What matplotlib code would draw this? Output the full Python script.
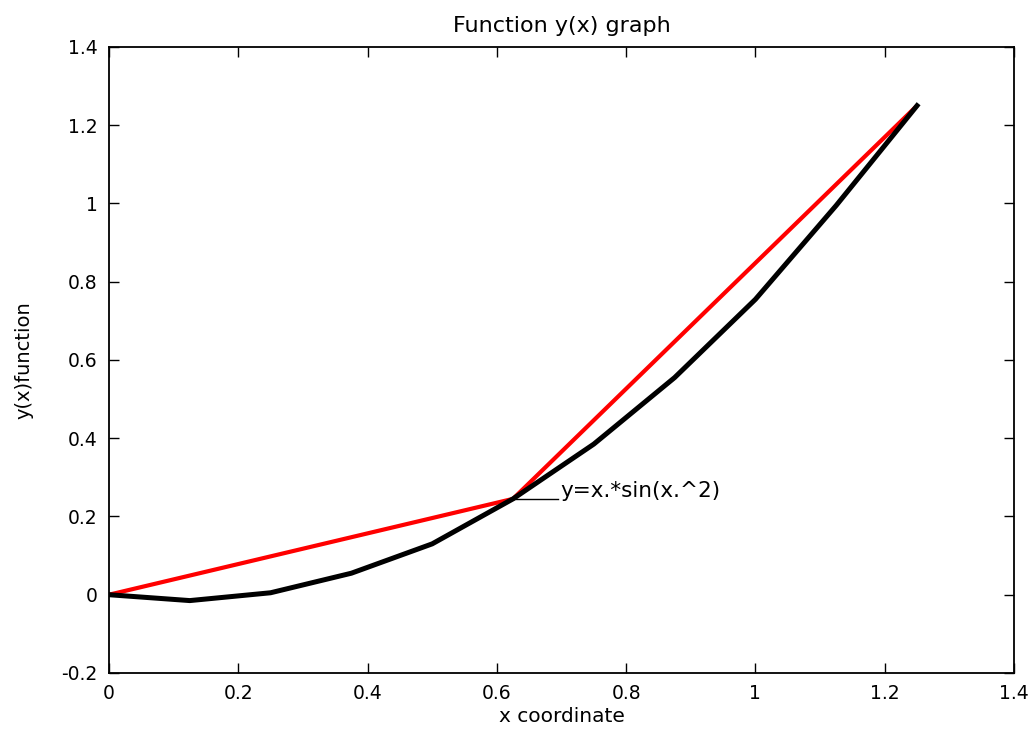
import matplotlib
matplotlib.use("Agg")
import matplotlib.pyplot as plt

# chart values
x_black = [0.0, 0.125, 0.25, 0.375, 0.5, 0.625, 0.75, 0.875, 1.0, 1.125, 1.25]
y_black = [0.0, -0.015, 0.005, 0.055, 0.13, 0.245, 0.385, 0.555, 0.755, 0.995, 1.25]
x_red = [0.0, 0.625, 1.25]
y_red = [0.0, 0.245, 1.25]
label_xy = (0.625, 0.245)
label_end_x = 0.695
label_text = "y=x.*sin(x.^2)"
xticks = [0, 0.2, 0.4, 0.6, 0.8, 1, 1.2, 1.4]
yticks = [-0.2, 0, 0.2, 0.4, 0.6, 0.8, 1, 1.2, 1.4]

plt.rcParams["font.family"] = ["DejaVu Sans"]
FS = 13.5

fig = plt.figure(figsize=(10.35, 7.33), dpi=100)
ax = fig.add_axes([0.1053, 0.0819, 0.8744, 0.854])

ax.plot(x_red, y_red, color="red", lw=3.0, solid_capstyle="butt")
ax.plot(x_black, y_black, color="black", lw=3.6, solid_capstyle="projecting")

# leader line + label
ax.plot([label_xy[0], label_end_x], [label_xy[1], label_xy[1]], color="black", lw=1.0)
ax.text(label_end_x + 0.003, label_xy[1] + 0.02, label_text, fontsize=15.5,
        va="center", ha="left")

ax.set_xlim(0, 1.4)
ax.set_ylim(-0.2, 1.4)
ax.set_xticks(xticks)
ax.set_yticks(yticks)
ax.set_xticklabels([f"{t:g}" for t in xticks])
ax.set_yticklabels([f"{t:g}" for t in yticks])
ax.tick_params(direction="in", length=7, width=1, top=True, right=True,
               labelsize=FS, pad=8)
for sp in ax.spines.values():
    sp.set_linewidth(1.3)

ax.set_title("Function y(x) graph", fontsize=16, pad=11)
ax.set_xlabel("x coordinate", fontsize=14.5, labelpad=3)
ax.set_ylabel("y(x)function", fontsize=14, labelpad=20)

fig.savefig("out.png", dpi=100)
